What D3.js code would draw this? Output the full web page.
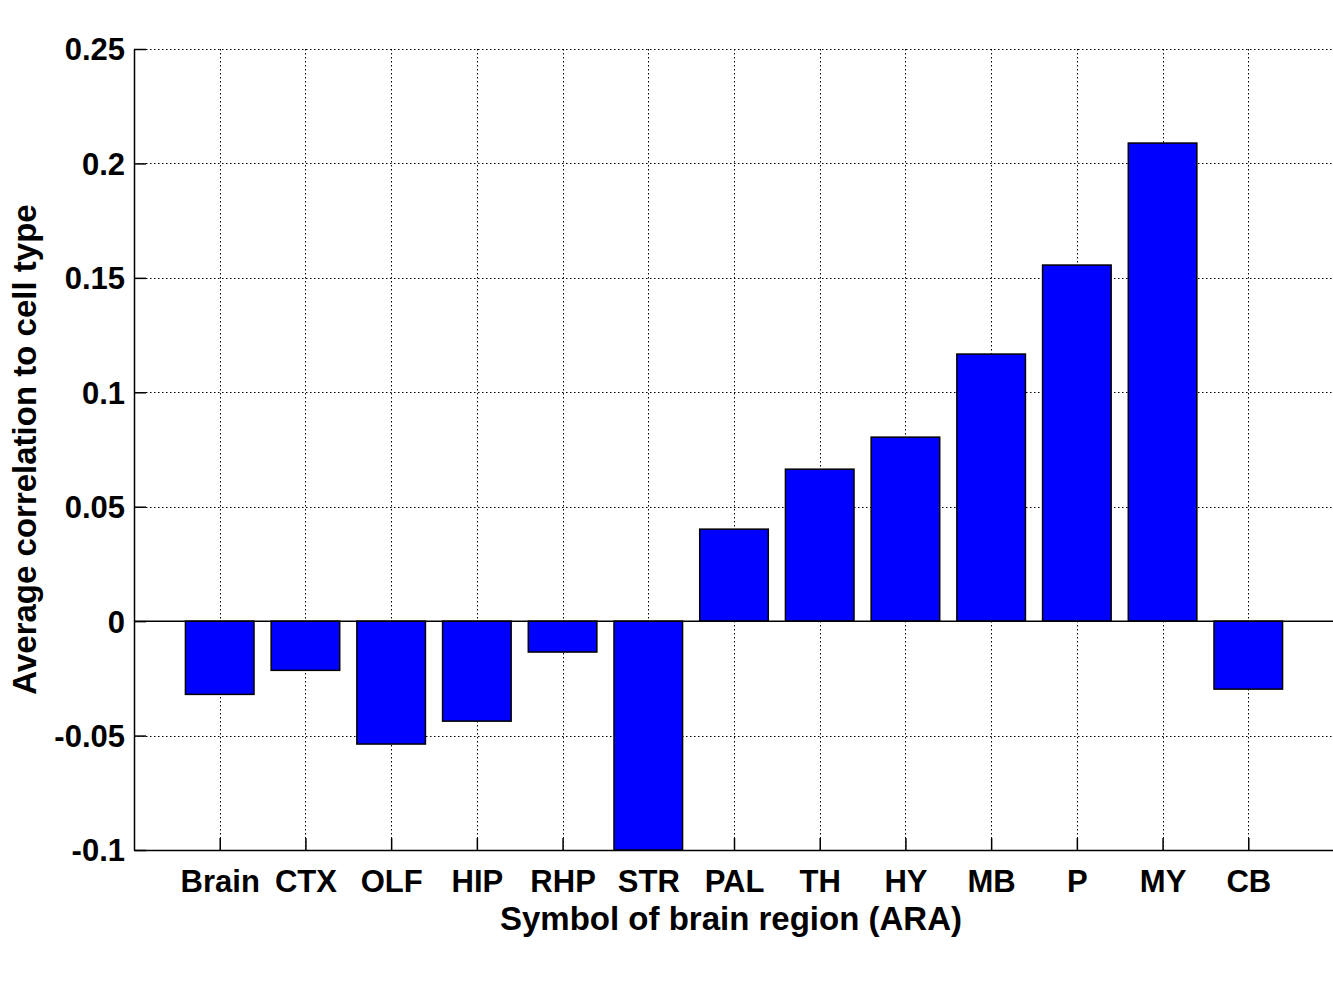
<!DOCTYPE html>
<html><head><meta charset="utf-8">
<script src="https://cdn.jsdelivr.net/npm/d3@7"></script>
<style>body{margin:0;background:#fff}svg{display:block}text{font-family:"Liberation Sans",Arial,sans-serif;font-weight:bold;fill:#000}</style>
</head><body>
<script>
const categories = ["Brain","CTX","OLF","HIP","RHP","STR","PAL","TH","HY","MB","P","MY","CB"];
const values = [-0.032,-0.0215,-0.0537,-0.0437,-0.0135,-0.1,0.0402,0.0664,0.0804,0.1167,0.1556,0.2089,-0.0297];
const yTicks = [-0.1,-0.05,0,0.05,0.1,0.15,0.2,0.25];
const yTickLabels = ["-0.1","-0.05","0","0.05","0.1","0.15","0.2","0.25"];
const xLabel = "Symbol of brain region (ARA)";
const yLabel = "Average correlation to cell type";

const W=1333,H=1000, L=134, R=1334, T=49, B=850;
const svg=d3.select("body").append("svg").attr("width",W).attr("height",H);
const x=d3.scaleLinear().domain([0,categories.length+1]).range([L,R]);
const y=d3.scaleLinear().domain([-0.1,0.25]).range([B,T]);
const bw=(x(1)-x(0))*0.8;
const fs=31, lfs=33;

// grid
const g=svg.append("g");
g.selectAll("line.gy").data(yTicks).enter().append("line")
 .attr("x1",L).attr("x2",R).attr("y1",d=>Math.round(y(d))+0.5).attr("y2",d=>Math.round(y(d))+0.5)
 .attr("stroke","#000").attr("stroke-width",1).attr("stroke-dasharray","1.5,2.5");
g.selectAll("line.gx").data(categories).enter().append("line")
 .attr("x1",(d,i)=>Math.round(x(i+1))+0.5).attr("x2",(d,i)=>Math.round(x(i+1))+0.5)
 .attr("y1",T).attr("y2",B).attr("stroke","#000").attr("stroke-width",1).attr("stroke-dasharray","1.5,2.5");

// axes
const ya=d3.axisLeft(y).tickValues(yTicks).tickFormat((d,i)=>yTickLabels[i]).tickSizeInner(-12).tickSizeOuter(0).tickPadding(9);
const yg=svg.append("g").attr("transform",`translate(${L},0)`).call(ya);
yg.selectAll("text").style("font-size",fs+"px").attr("dy","0.35em");
yg.selectAll("path,line").attr("stroke","#000").attr("stroke-width",1.5);

const xa=d3.axisBottom(x).tickValues(d3.range(1,categories.length+1)).tickFormat(d=>categories[d-1]).tickSizeInner(-12).tickSizeOuter(0).tickPadding(20);
const xg=svg.append("g").attr("transform",`translate(0,${B})`).call(xa);
xg.selectAll("text").style("font-size",fs+"px");
xg.selectAll("path,line").attr("stroke","#000").attr("stroke-width",1.5);

// bars
svg.selectAll("rect.bar").data(values).enter().append("rect")
 .attr("x",(d,i)=>x(i+1)-bw/2).attr("width",bw)
 .attr("y",d=>y(Math.max(0,d))).attr("height",d=>Math.abs(y(d)-y(0)))
 .attr("fill","#0000ff").attr("stroke","#000").attr("stroke-width",1.5);

// zero line
svg.append("line").attr("x1",L).attr("x2",R).attr("y1",y(0)).attr("y2",y(0)).attr("stroke","#000").attr("stroke-width",1.5);

svg.append("text").attr("x",(L+R)/2-3).attr("y",930).attr("text-anchor","middle").style("font-size",lfs+"px").text(xLabel);
svg.append("text").attr("transform",`translate(36,${(T+B)/2}) rotate(-90)`).attr("text-anchor","middle").style("font-size",lfs+"px").text(yLabel);
</script>
</body></html>
